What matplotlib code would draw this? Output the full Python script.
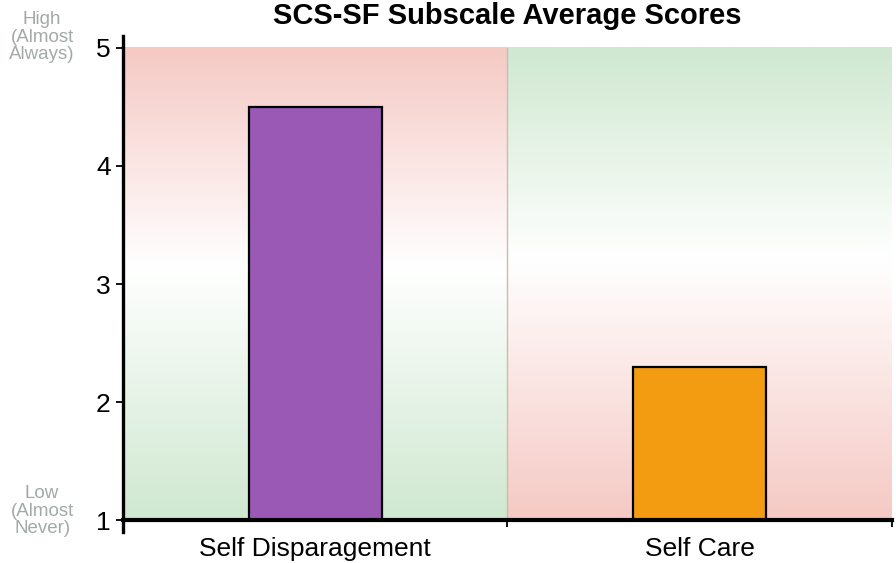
import numpy as np
import matplotlib
matplotlib.use("Agg")
import matplotlib.pyplot as plt
from matplotlib.colors import LinearSegmentedColormap

plt.rcParams['font.family'] = ['Liberation Sans', 'DejaVu Sans']

# data
categories = ['Self Disparagement', 'Self Care']
scores = [4.5, 2.3]
bar_colors = ['#9b59b6', '#f39c12']
# background: top colour / bottom colour per column
bg_top = ['#f5c9c4', '#cfe8d0']
bg_bottom = ['#cfe8d0', '#f5c9c4']
white_at = [3.15, 3.2]

fig = plt.figure(figsize=(8.96, 5.63), dpi=100)
ax = fig.add_axes([0.1373, 0.055, 0.8582, 0.881])

x = np.arange(len(categories))
ymin, ymax = 1, 5

# gradient backgrounds
for i in range(len(categories)):
    w = (white_at[i] - ymin) / (ymax - ymin)
    cmap = LinearSegmentedColormap.from_list(
        'bg%d' % i, [(0, bg_bottom[i]), (w, 'white'), (1, bg_top[i])])
    grad = np.linspace(0, 1, 256).reshape(-1, 1)
    ax.imshow(grad, cmap=cmap, origin='lower', aspect='auto',
              extent=[x[i] - 0.5, x[i] + 0.5, ymin, ymax], zorder=0)
ax.axvline(0.5, ymin=(1 - 0.9) / 4.2, ymax=(5 - 0.9) / 4.2,
           color='#cdb9ad', lw=1, zorder=1)

ax.bar(x, [s - ymin for s in scores], bottom=ymin, width=0.345,
       color=bar_colors, edgecolor='black', linewidth=1.6, zorder=2)

ax.set_xlim(-0.5, 1.5)
ax.set_ylim(0.9, 5.1)

for side in ['top', 'right']:
    ax.spines[side].set_visible(False)
ax.spines['bottom'].set_position(('data', 1))
ax.spines['bottom'].set_linewidth(3)
ax.spines['left'].set_linewidth(2.4)
ax.spines['bottom'].set_zorder(3)
ax.spines['left'].set_zorder(3)

ax.set_yticks([1, 2, 3, 4, 5])
ax.tick_params(axis='y', labelsize=19, length=5, width=1.3, pad=4)
ax.set_xticks(x)
ax.set_xticklabels(categories)
ax.tick_params(axis='x', which='major', length=0, labelsize=19, pad=12)
ax.set_xticks([0.5, 1.5], minor=True)
ax.tick_params(axis='x', which='minor', length=5, width=1.3)

fig.text(0.566, 0.957, 'SCS-SF Subscale Average Scores', ha='center',
         va='baseline', fontsize=21, fontweight='bold')
fig.text(0.047, 0.934, 'High\n(Almost\nAlways)', ha='center', va='center',
         fontsize=13.5, color='#a3a9a9', linespacing=1.05)
fig.text(0.047, 0.092, 'Low\n(Almost\nNever)', ha='center', va='center',
         fontsize=13.5, color='#a3a9a9', linespacing=1.05)

fig.savefig('out.png', dpi=100)
